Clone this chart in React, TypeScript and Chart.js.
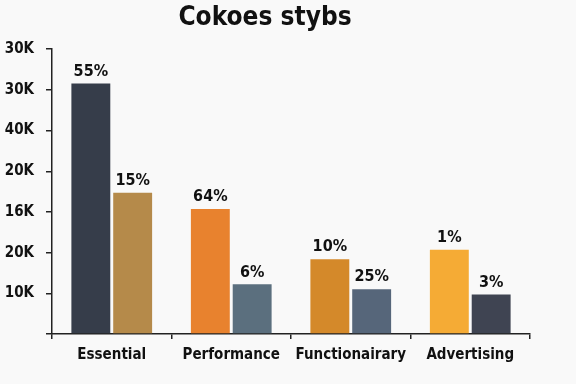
import React, { useEffect, useRef } from "react";
import { Chart, registerables } from "chart.js";

Chart.register(...registerables);

const TITLE = "Cokoes stybs";
const categories = ["Essential", "Performance", "Functionairary", "Advertising"];
const seriesA = [61.6, 30.7, 18.4, 20.7];
const seriesB = [34.7, 12.2, 11.0, 9.7];
const labelsA = ["55%", "64%", "10%", "1%"];
const labelsB = ["15%", "6%", "25%", "3%"];
const colorsA = ["#363d4a", "#e8822e", "#d4892a", "#f5ab35"];
const colorsB = ["#b58a4a", "#5b6f7e", "#56667a", "#3f4452"];
const yTickValues = [0, 10, 20, 30, 40, 50, 60, 70];
const yTickLabels = ["", "10K", "20K", "16K", "20K", "40K", "30K", "30K"];

const FONT = '"DejaVu Sans Condensed", "Liberation Sans", sans-serif';

const bgPlugin = {
  id: "bg",
  beforeDraw(chart: any) {
    const { ctx, width, height } = chart;
    ctx.save();
    ctx.fillStyle = "#f9f9f9";
    ctx.fillRect(0, 0, width, height);
    ctx.restore();
  },
};

const labelPlugin = {
  id: "barLabels",
  afterDatasetsDraw(chart: any) {
    const { ctx } = chart;
    const sets = [labelsA, labelsB];
    ctx.save();
    ctx.font = "bold 16px " + FONT;
    ctx.fillStyle = "#111";
    ctx.textAlign = "center";
    ctx.textBaseline = "bottom";
    chart.data.datasets.forEach((ds: any, di: number) => {
      const meta = chart.getDatasetMeta(di);
      meta.data.forEach((bar: any, i: number) => {
        ctx.fillText(sets[di][i], bar.x, bar.y - 4);
      });
    });
    ctx.restore();
  },
};

export default function App() {
  const ref = useRef<HTMLCanvasElement>(null);
  useEffect(() => {
    document.body.style.margin = "0";
    const chart = new Chart(ref.current!, {
      type: "bar",
      data: {
        labels: categories,
        datasets: [
          { data: seriesA, backgroundColor: colorsA, categoryPercentage: 0.7, barPercentage: 0.93 },
          { data: seriesB, backgroundColor: colorsB, categoryPercentage: 0.7, barPercentage: 0.93 },
        ],
      },
      options: {
        animation: false,
        responsive: false,
        layout: { padding: { left: 0, right: 46, top: 0, bottom: 0 } },
        plugins: {
          legend: { display: false },
          tooltip: { enabled: false },
          title: {
            display: true,
            text: TITLE,
            color: "#111",
            font: { family: FONT, size: 26, weight: "bold", lineHeight: 1.2 },
            padding: { top: 3, bottom: 15 },
          },
        },
        scales: {
          x: {
            afterFit(scale: any) {
              scale.height = 50;
            },
            grid: { display: true, drawOnChartArea: false, tickLength: 5, color: "#222", lineWidth: 1.5 },
            border: { display: true, color: "#222", width: 1.5 },
            ticks: {
              color: "#111",
              padding: 7,
              maxRotation: 0,
              minRotation: 0,
              autoSkip: false,
              font: { family: FONT, size: 15, weight: "bold" },
            },
          },
          y: {
            min: 0,
            max: 70,
            afterFit(scale: any) {
              scale.width = 52;
            },
            afterBuildTicks(scale: any) {
              scale.ticks = yTickValues.map((v) => ({ value: v }));
            },
            grid: { display: true, drawOnChartArea: false, tickLength: 6, color: "#222", lineWidth: 1.5 },
            border: { display: true, color: "#222", width: 1.5 },
            ticks: {
              color: "#111",
              padding: 12,
              font: { family: FONT, size: 15, weight: "bold" },
              callback: (v: any) => {
                const i = yTickValues.indexOf(Number(v));
                return i >= 0 ? yTickLabels[i] : "";
              },
            },
          },
        },
      },
      plugins: [bgPlugin, labelPlugin],
    });
    return () => chart.destroy();
  }, []);
  return (
    <div style={{ width: 576, height: 384 }}>
      <canvas ref={ref} width={576} height={384} style={{ display: "block" }} />
    </div>
  );
}
